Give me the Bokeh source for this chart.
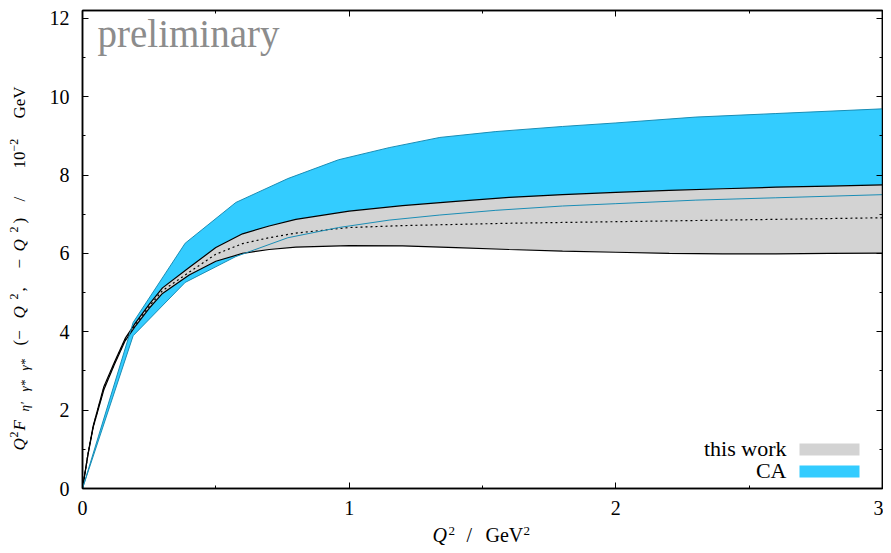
import math
from bokeh.plotting import figure
from bokeh.layouts import row, column
from bokeh.models import Range1d, LinearAxis, FixedTicker, Label, BoxAnnotation, ColumnDataSource
from bokeh.core.properties import value
from bokeh.embed import file_html
from bokeh.resources import INLINE

# ---------------- data ----------------
q2_band = [0.0, 0.02, 0.04, 0.08, 0.12, 0.16, 0.2, 0.25, 0.3, 0.4, 0.5, 0.6, 0.7,
           0.8, 1.0, 1.2, 1.4, 1.6, 1.8, 2.0, 2.2, 2.4, 2.6, 2.8, 3.0]
band_upper = [0.0, 0.86, 1.60, 2.60, 3.23, 3.83, 4.24, 4.70, 5.12, 5.64, 6.15, 6.50, 6.70,
              6.87, 7.08, 7.22, 7.33, 7.43, 7.50, 7.56, 7.61, 7.65, 7.69, 7.72, 7.75]
band_central = [0.0, 0.85, 1.58, 2.56, 3.20, 3.80, 4.20, 4.65, 5.05, 5.52, 5.98, 6.25, 6.40,
                6.52, 6.66, 6.71, 6.74, 6.77, 6.79, 6.81, 6.83, 6.85, 6.87, 6.89, 6.91]
band_lower = [0.0, 0.84, 1.56, 2.52, 3.17, 3.77, 4.16, 4.60, 4.98, 5.45, 5.80, 6.00, 6.10,
              6.16, 6.20, 6.19, 6.15, 6.10, 6.06, 6.03, 6.00, 5.99, 5.99, 6.00, 6.01]

q2_ca = [0.0, 0.19, 0.385, 0.575, 0.77, 0.96, 1.15, 1.34, 1.55, 1.8, 2.0, 2.3, 2.6, 3.0]
ca_upper = [0.0, 4.24, 6.26, 7.30, 7.91, 8.39, 8.70, 8.96, 9.11, 9.24, 9.33, 9.48, 9.57, 9.69]
ca_lower = [0.0, 3.90, 5.26, 5.92, 6.40, 6.66, 6.85, 6.98, 7.10, 7.21, 7.27, 7.36, 7.42, 7.50]

x_ticks = [0, 1, 2, 3]
x_minor = [0.5, 1.5, 2.5]
y_ticks = [0, 2, 4, 6, 8, 10, 12]
y_minor = [1, 3, 5, 7, 9, 11]
legend_labels = ["this work", "CA"]

# ---------------- layout constants ----------------
TOTAL_W, TOTAL_H = 883, 545
YLAB_W = 36                      # strip left of the main figure holding the y label
MAIN_H = 522                     # main figure height; the x label strip lies below
XLAB_H = TOTAL_H - MAIN_H
MAIN_W = TOTAL_W - YLAB_W
FL, FR, FT, FB = 82, 882, 10, 488   # frame edges in page pixels
XMAX, YMAX = 3.0, 12.2
FONT = "Liberation Serif"
GRAY_FILL = "#d3d3d3"
CA_FILL = "#33ccff"
CA_LINE = "#1a8db5"
BASE_SHIFT = 0.27                # em offset between anchor and drawn baseline


def px2x(sx):
    return (sx - FL) / (FR - FL) * XMAX


def py2y(sy):
    return (FB - sy) / (FB - FT) * YMAX


p = figure(width=MAIN_W, height=MAIN_H, x_range=Range1d(0, XMAX), y_range=Range1d(0, YMAX),
           output_backend="svg", toolbar_location=None, frame_align=False,
           title_location=None,
           min_border_left=FL - YLAB_W, min_border_right=TOTAL_W - FR,
           min_border_top=FT, min_border_bottom=MAIN_H - FB)
p.grid.visible = False
p.background_fill_color = "white"
p.border_fill_color = "white"
p.outline_line_color = "black"
p.outline_line_width = 1.5

# bands
p.varea(x=q2_ca, y1=ca_lower, y2=ca_upper, fill_color=CA_FILL)
p.varea(x=q2_band, y1=band_lower, y2=band_upper, fill_color=GRAY_FILL)
p.line(q2_band, band_upper, line_color="black", line_width=1.2)
p.line(q2_band, band_lower, line_color="black", line_width=1.2)
p.line(q2_band, band_central, line_color="black", line_width=1.2, line_dash="2 3")
p.line(q2_ca, ca_upper, line_color=CA_LINE, line_width=1)
p.line(q2_ca, ca_lower, line_color=CA_LINE, line_width=1)


def style_axis(ax, ticks, minor, show_labels, standoff=10):
    ax.ticker = FixedTicker(ticks=ticks, minor_ticks=minor)
    ax.major_tick_in = 6
    ax.major_tick_out = 0
    ax.minor_tick_in = 3
    ax.minor_tick_out = 0
    ax.axis_line_color = "black"
    ax.axis_line_width = 1.5
    ax.major_tick_line_color = "black"
    ax.minor_tick_line_color = "black"
    ax.major_tick_line_width = 1
    ax.minor_tick_line_width = 1
    ax.major_label_text_font = FONT
    ax.major_label_text_color = "black"
    if show_labels:
        ax.major_label_text_font_size = "20px"
        ax.major_label_standoff = standoff
    else:
        ax.major_label_overrides = {t: "" for t in ticks}
        ax.major_label_text_font_size = "0px"
        ax.major_label_standoff = 0
    ax.axis_label = None


style_axis(p.xaxis[0], x_ticks, x_minor, True, 12)
style_axis(p.yaxis[0], y_ticks, y_minor, True, 13)

top_ax = LinearAxis()
right_ax = LinearAxis()
style_axis(top_ax, x_ticks, x_minor, False)
style_axis(right_ax, y_ticks, y_minor, False)
p.add_layout(top_ax, "above")
p.add_layout(right_ax, "right")


def add_label(text, sx, sy, size, align="left", color="black"):
    # sy is the wanted baseline in page pixels
    p.add_layout(Label(x=px2x(sx), y=py2y(sy - BASE_SHIFT * size), text=text,
                       text_font=FONT, text_font_size=f"{size}px", text_color=color,
                       text_align=align, text_baseline="alphabetic"))


add_label("preliminary", 97, 44, 39, color="#8c8c8c")

# legend
add_label(legend_labels[0], 786, 454, 22, align="right")
add_label(legend_labels[1], 786, 476, 22, align="right")
p.add_layout(BoxAnnotation(left=px2x(799), right=px2x(859), bottom=py2y(455), top=py2y(443),
                           fill_color=GRAY_FILL, fill_alpha=1.0, line_color=None))
p.add_layout(BoxAnnotation(left=px2x(799), right=px2x(859), bottom=py2y(477), top=py2y(465),
                           fill_color=CA_FILL, fill_alpha=1.0, line_color=None))


# ---------------- axis-title strips (text figures) ----------------
def text_strip(width, height):
    f = figure(width=width, height=height, x_range=Range1d(0, width), y_range=Range1d(0, height),
               output_backend="svg", toolbar_location=None, x_axis_type=None, y_axis_type=None,
               title_location=None, frame_align=False,
               min_border=0, min_border_left=0, min_border_right=0,
               min_border_top=0, min_border_bottom=0)
    f.grid.visible = False
    f.outline_line_color = None
    f.background_fill_color = "white"
    f.border_fill_color = "white"
    return f


# y label pieces: (text, start y in page px, baseline x in page px, size, style)
ylabel_pieces = [
    ("Q", 450, 24, 17, "italic"), ("2", 437, 17, 12, "normal"), ("F", 430, 24, 17, "italic"),
    ("η′", 411, 28, 13, "italic"), ("γ*", 391, 28, 13, "italic"), ("γ*", 370, 28, 13, "italic"),
    ("(−", 345, 24, 17, "normal"), ("Q", 318, 24, 17, "italic"), ("2", 299, 17, 12, "normal"),
    (",", 291, 24, 17, "normal"), ("−", 268, 24, 17, "normal"), ("Q", 251, 24, 17, "italic"),
    ("2", 232, 17, 12, "normal"), (")", 223, 24, 17, "normal"), ("/", 201, 24, 17, "normal"),
    ("10", 168, 24, 17, "normal"), ("−2", 151, 17, 12, "normal"), ("GeV", 118, 24, 17, "normal"),
]
ylab = text_strip(YLAB_W, MAIN_H)
ysrc = ColumnDataSource(dict(
    x=[t[2] - BASE_SHIFT * t[3] for t in ylabel_pieces],
    y=[MAIN_H - t[1] for t in ylabel_pieces],
    text=[t[0] for t in ylabel_pieces],
    size=[f"{t[3]}px" for t in ylabel_pieces],
    style=[t[4] for t in ylabel_pieces],
))
ylab.text(x="x", y="y", text="text", source=ysrc, angle=math.pi / 2,
          text_font=value(FONT), text_font_size="size", text_font_style="style",
          text_color="black", text_align="left", text_baseline="alphabetic")

# x label pieces: (text, x in page px, baseline y in page px, size, style)
xlabel_pieces = [
    ("Q", 432, 540, 20, "italic"), ("2", 448, 534, 13, "normal"), ("/", 466, 540, 20, "normal"),
    ("GeV", 485, 540, 20, "normal"), ("2", 523, 534, 13, "normal"),
]
xlab = text_strip(TOTAL_W, XLAB_H)
xsrc = ColumnDataSource(dict(
    x=[t[1] for t in xlabel_pieces],
    y=[TOTAL_H - (t[2] - BASE_SHIFT * t[3]) for t in xlabel_pieces],
    text=[t[0] for t in xlabel_pieces],
    size=[f"{t[3]}px" for t in xlabel_pieces],
    style=[t[4] for t in xlabel_pieces],
))
xlab.text(x="x", y="y", text="text", source=xsrc,
          text_font=value(FONT), text_font_size="size", text_font_style="style",
          text_color="black", text_align="left", text_baseline="alphabetic")

layout = column(row(ylab, p, spacing=0), xlab, spacing=0)

open("out.html", "w").write(file_html(layout, INLINE))
